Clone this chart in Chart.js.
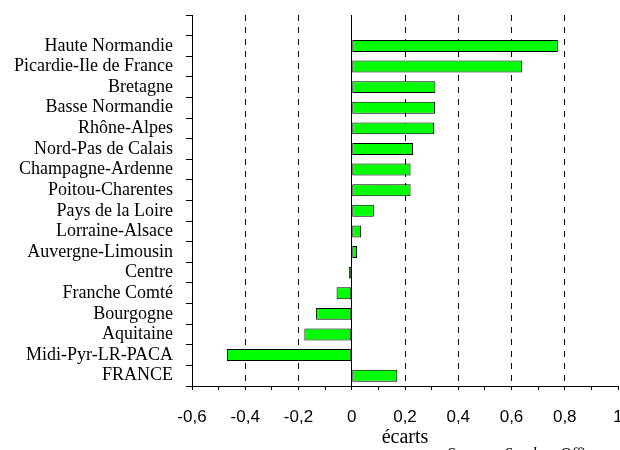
<!DOCTYPE html>
<html lang="fr">
<head>
<meta charset="utf-8">
<title>Écarts par région</title>
<script src="https://cdn.jsdelivr.net/npm/chart.js@4.4.1/dist/chart.umd.min.js"></script>
<style>
  html, body { margin: 0; padding: 0; background: #fff; overflow: hidden; }
  #wrap { position: relative; width: 620px; height: 450px; overflow: hidden; }
  canvas { display: block; }
  #source {
    position: absolute; left: 447px; top: 446px;
    font: italic 16px/16px "Liberation Serif", "Times New Roman", serif;
    white-space: nowrap; color: #000;
  }
</style>
</head>
<body>
<div id="wrap">
  <canvas id="chart" width="640" height="450"></canvas>
  <div id="source">Source : Sanders Office</div>
</div>
<script>
"use strict";

// first slot is left empty, as in the original graphic
const REGIONS = [
  "",
  "Haute Normandie",
  "Picardie-Ile de France",
  "Bretagne",
  "Basse Normandie",
  "Rhône-Alpes",
  "Nord-Pas de Calais",
  "Champagne-Ardenne",
  "Poitou-Charentes",
  "Pays de la Loire",
  "Lorraine-Alsace",
  "Auvergne-Limousin",
  "Centre",
  "Franche Comté",
  "Bourgogne",
  "Aquitaine",
  "Midi-Pyr-LR-PACA",
  "FRANCE",
];
const ECARTS = [
  null, 0.774, 0.64, 0.314, 0.313, 0.309, 0.23, 0.221, 0.221,
  0.083, 0.035, 0.02, -0.011, -0.057, -0.134, -0.178, -0.469, 0.171,
];

const X_TICKS = [-0.6, -0.5, -0.4, -0.3, -0.2, -0.1, 0, 0.1, 0.2, 0.3, 0.4, 0.5, 0.6, 0.7, 0.8, 0.9, 1];
const X_LABELS = ["-0,6", "", "-0,4", "", "-0,2", "", "0", "", "0,2", "", "0,4", "", "0,6", "", "0,8", "", "1"];
const X_DASHED = [-0.4, -0.2, 0.2, 0.4, 0.6, 0.8];

const SERIF = '"Liberation Serif", "Times New Roman", serif';
const SANS = '"Liberation Sans", Arial, sans-serif';

const near = (a, b) => Math.abs(a - b) < 1e-6;

Chart.defaults.color = "#000";

new Chart(document.getElementById("chart"), {
  type: "bar",
  data: {
    labels: REGIONS,
    datasets: [{
      data: ECARTS,
      backgroundColor: "#00ff00",
      borderColor: "#000",
      borderWidth: 1,
      borderSkipped: false,
      barPercentage: 0.58,
      categoryPercentage: 1,
    }],
  },
  options: {
    indexAxis: "y",
    responsive: false,
    animation: false,
    layout: { padding: { top: 15, right: 22, left: 0, bottom: 0 } },
    plugins: { legend: { display: false }, tooltip: { enabled: false } },
    scales: {
      x: {
        type: "linear",
        min: -0.6,
        max: 1,
        afterBuildTicks: (s) => { s.ticks = X_TICKS.map((v) => ({ value: v })); },
        afterFit: (s) => { s.height = 64; },
        ticks: {
          autoSkip: false,
          maxRotation: 0,
          padding: 17,
          font: { family: SANS, size: 17 },
          callback: (v, i) => X_LABELS[i],
        },
        grid: {
          drawTicks: true,
          tickLength: 4,
          tickColor: "#000",
          lineWidth: 1,
          color: (ctx) => {
            const v = ctx.tick ? ctx.tick.value : null;
            if (v === null) return "transparent";
            if (near(v, 0) || X_DASHED.some((d) => near(d, v))) return "#000";
            return "transparent";
          },
        },
        border: {
          display: true,
          color: "#000",
          width: 1,
          dash: (ctx) => (ctx.tick && !near(ctx.tick.value, 0) ? [6, 6] : []),
        },
        title: {
          display: true,
          text: "écarts",
          font: { family: SERIF, size: 20 },
          padding: { top: 0, bottom: 0 },
        },
      },
      y: {
        afterFit: (s) => {
          s.width = 192;
          s.paddingTop = 0;
          s.paddingBottom = 0;
        },
        ticks: {
          autoSkip: false,
          padding: 13,
          font: { family: SERIF, size: 18 },
        },
        grid: {
          drawOnChartArea: false,
          drawTicks: true,
          tickLength: 6,
          tickColor: "#000",
        },
        border: { display: true, color: "#000", width: 1 },
      },
    },
  },
});
</script>
</body>
</html>
